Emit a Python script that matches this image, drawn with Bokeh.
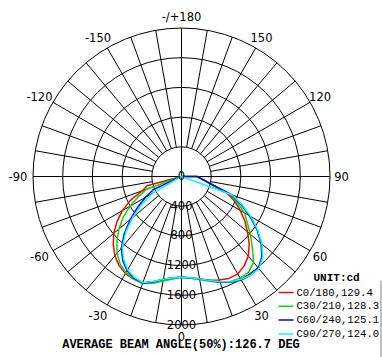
import math
from bokeh.plotting import figure
from bokeh.models import Range1d
from bokeh.embed import file_html
from bokeh.resources import INLINE
from bokeh.core.properties import value

# ---------------- data ----------------
gamma_deg = [0, 5, 10, 15, 20, 25, 30, 35, 40, 45, 50, 55, 60, 65, 70, 75, 80, 85, 90]

# right half of each C-plane pair (C0, C30, C60, C90), cd
c0_right = [1356, 1375, 1400, 1445, 1485, 1515, 1515, 1470, 1400, 1290, 1160, 1040, 915, 790, 650, 430, 318, 253, 211]
c30_right = [1356, 1375, 1410, 1460, 1515, 1560, 1580, 1575, 1510, 1350, 1210, 1080, 980, 830, 690, 430, 318, 253, 211]
c60_right = [1356, 1370, 1400, 1450, 1515, 1570, 1610, 1620, 1610, 1530, 1400, 1240, 1060, 880, 710, 430, 318, 253, 211]
c90_right = [1356, 1370, 1400, 1450, 1510, 1565, 1600, 1625, 1620, 1545, 1415, 1255, 1080, 900, 720, 0, 0, 0, 0]

# left half (C180, C210, C240, C270), cd
c180_left = [1356, 1375, 1410, 1465, 1530, 1525, 1510, 1465, 1395, 1300, 1190, 1060, 920, 760, 560, 480, 0, 0, 0]
c210_left = [1356, 1385, 1430, 1490, 1530, 1520, 1495, 1440, 1350, 1230, 1100, 960, 800, 640, 500, 0, 0, 0, 0]
c240_left = [1356, 1370, 1405, 1470, 1525, 1510, 1465, 1380, 1260, 1090, 900, 720, 560, 420, 0, 0, 0, 0, 0]
c270_left = [1356, 1370, 1405, 1465, 1520, 1500, 1450, 1360, 1240, 1060, 860, 650, 450, 0, 0, 0, 0, 0, 0]

series_names = ["C0/180,129.4", "C30/210,128.3", "C60/240,125.1", "C90/270,124.0"]
series_colors = ["#ff0000", "#00dd00", "#0000ff", "#00ffff"]

ring_values = [400, 800, 1200, 1600, 2000]
ring_labels = ["400", "800", "1200", "1600", "2000"]
angle_ticks = [0, 30, 60, 90, 120, 150, 180, -150, -120, -90, -60, -30]
angle_labels = ["0", "30", "60", "90", "120", "150", "-/+180", "-150", "-120", "-90", "-60", "-30"]
unit_text = "UNIT:cd"
footer_text = "AVERAGE BEAM ANGLE(50%):126.7 DEG"

# ---------------- geometry ----------------
W, H = 382, 357
CX, CY = 181, 176          # pixel position of the pole
R_PX = 148.5               # pixel radius of the outer ring
S = ring_values[-1] / R_PX  # cd per pixel


def px(xp, yp):
    return (xp - CX) * S, (CY - yp) * S


def polar(g, r):
    a = math.radians(g)
    return r * math.sin(a), -r * math.cos(a)


p = figure(width=W, height=H,
           x_range=Range1d(-CX * S, (W - CX) * S),
           y_range=Range1d(-(H - CY) * S, CY * S),
           output_backend="svg", toolbar_location=None, min_border=0,
           x_axis_location=None, y_axis_location=None)
p.grid.visible = False
p.outline_line_color = None
p.background_fill_color = "white"
p.border_fill_color = "white"

# rings
p.circle(x=[0] * len(ring_values), y=[0] * len(ring_values), radius=ring_values,
         fill_color=None, line_color="black", line_width=1)

# spokes
x0s, y0s, x1s, y1s = [], [], [], []
for a in range(0, 360, 10):
    r0 = 0 if a % 90 == 0 else ring_values[0]
    xa, ya = polar(a, r0)
    xb, yb = polar(a, ring_values[-1])
    x0s.append(xa); y0s.append(ya); x1s.append(xb); y1s.append(yb)
p.segment(x0=x0s, y0=y0s, x1=x1s, y1=y1s, line_color="black", line_width=1)

# curves
pairs = [(c180_left, c0_right), (c210_left, c30_right), (c240_left, c60_right), (c270_left, c90_right)]
for (left, right), col in zip(pairs, series_colors):
    xs, ys = [0.0], [0.0]
    for g, v in reversed(list(zip(gamma_deg, left))):
        x, y = polar(-g, v)
        xs.append(x); ys.append(y)
    for g, v in list(zip(gamma_deg, right))[1:]:
        x, y = polar(g, v)
        xs.append(x); ys.append(y)
    xs.append(0.0); ys.append(0.0)
    p.line(xs, ys, line_color=col, line_width=1.5)

# radial labels
lab_font = value("DejaVu Sans")
p.text(x=[0] * (len(ring_values) + 1), y=[0] + [-v for v in ring_values],
       text=["0"] + ring_labels, text_align="center", text_baseline="alphabetic",
       y_offset=-1, text_font=lab_font, text_font_size="11.5px", text_color="black")

# angle labels
R_LAB = 160 * S
axs, ays, xoffs = [], [], []
for a, t in zip(angle_ticks, angle_labels):
    x, y = polar(a, R_LAB)
    axs.append(x); ays.append(y)
    xoffs.append(-3.5 if t.startswith("-") and t != "-/+180" else 0)
p.text(x=axs, y=ays, text=angle_labels, x_offset=xoffs, text_align="center",
       text_baseline="middle", text_font=lab_font, text_font_size="11.5px", text_color="black")

# legend
mono = value("Liberation Mono")
ux, uy = px(313, 277)
p.text(x=[ux], y=[uy], text=[unit_text], text_align="left", text_baseline="middle",
       text_font=mono, text_font_size="11px", text_font_style="bold", text_color="black")
for i, (name, col) in enumerate(zip(series_names, series_colors)):
    yp = 292 + i * 13.8
    xa, ya = px(278, yp)
    xb, yb = px(293, yp)
    p.segment(x0=[xa], y0=[ya], x1=[xb], y1=[yb], line_color=col, line_width=1.5)
    xt, yt = px(296, yp)
    p.text(x=[xt], y=[yt], text=[name], text_align="left", text_baseline="middle",
           text_font=mono, text_font_size="10.6px", text_color="black")

# right border line of the legend box
bx0, by0 = px(380.5, 280)
bx1, by1 = px(380.5, 357)
p.segment(x0=[bx0], y0=[by0], x1=[bx1], y1=[by1], line_color="#808080", line_width=1)

# footer
fx, fy = px(180.5, 344)
p.text(x=[fx], y=[fy], text=[footer_text], text_align="center", text_baseline="middle",
       text_font=mono, text_font_size="12px", text_font_style="bold", text_color="black")

open("out.html", "w").write(file_html(p, INLINE))
